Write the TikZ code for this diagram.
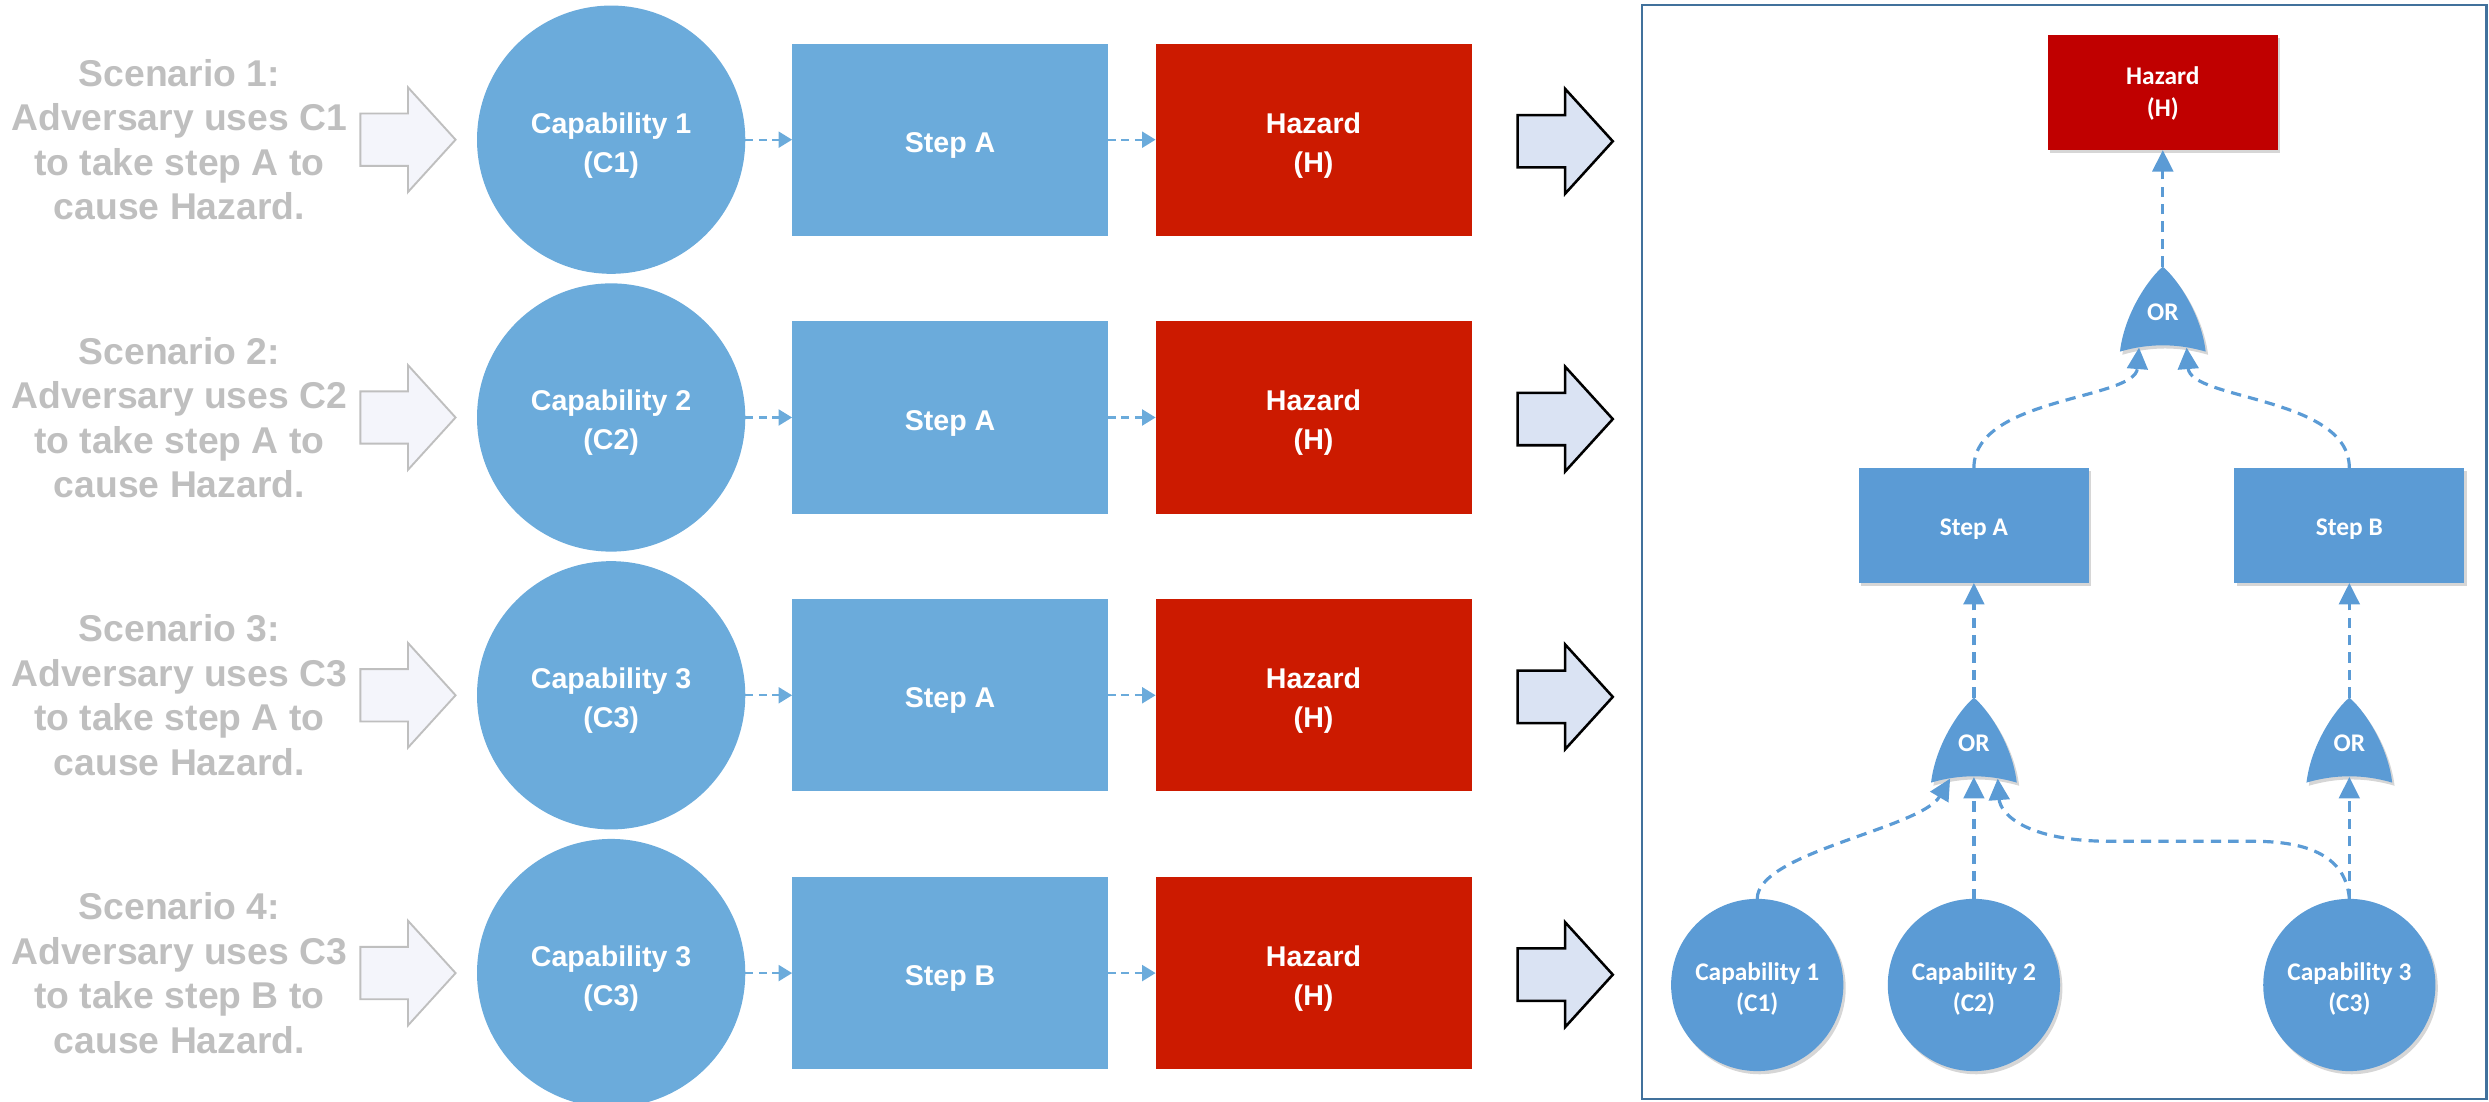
\documentclass[tikz,border=0pt]{standalone}
\usepackage{fontspec}
\setmainfont{Liberation Sans}
\newfontfamily\carlito{Carlito}
\usetikzlibrary{shapes.geometric,arrows.meta,shadows}
\definecolor{lblue}{HTML}{6BABDB}
\definecolor{lred}{HTML}{CC1A00}
\definecolor{rblue}{HTML}{5B9BD5}
\definecolor{rred}{HTML}{C00000}
\definecolor{scgray}{HTML}{BFBFBF}
\definecolor{hollowfill}{HTML}{F4F5FB}
\definecolor{bigfill}{HTML}{DAE3F3}
\definecolor{framecol}{HTML}{41719C}
\tikzset{
  scen/.style={text=scgray, align=center, inner sep=0, font=\fontsize{23.5}{28}\selectfont\bfseries},
  lcap/.style={circle, fill=lblue, minimum size=169pt, inner sep=0, outer sep=0},
  lstep/.style={rectangle, fill=lblue, minimum width=199pt, minimum height=121pt, inner sep=0, outer sep=0},
  lhaz/.style={lstep, fill=lred},
  ltext/.style={text=white, align=center, inner sep=0, font=\fontsize{18}{24.5}\selectfont\bfseries},
  ldash/.style={draw=lblue, line width=1.5pt, dash pattern=on 5pt off 3.5pt, -{Triangle[length=8.5pt,width=10pt]}},
  rshadow/.style={drop shadow={shadow xshift=1.5pt, shadow yshift=-2pt, opacity=0.16, fill=black}},
  rbox/.style={rectangle, fill=rblue, minimum width=145pt, minimum height=72.5pt, inner sep=0, outer sep=0, rshadow},
  rhaz/.style={rbox, fill=rred},
  rcap/.style={circle, fill=rblue, minimum size=108.5pt, inner sep=0, outer sep=0, rshadow},
  rtext/.style={text=white, align=center, inner sep=0, font=\carlito\bfseries\fontsize{16}{20}\selectfont},
  ortext/.style={text=white, inner sep=0, font=\carlito\bfseries\fontsize{16}{19}\selectfont},
  rdash/.style={draw=rblue, line width=2pt, dash pattern=on 6.5pt off 4.5pt, -{Triangle[length=13.5pt,width=13pt]}},
  hollowarr/.pic={\path[draw=scgray, fill=hollowfill, line width=1.2pt] (0,-16.5) -- (30,-16.5) -- (30,-33) -- (60,0) -- (30,33) -- (30,16.5) -- (0,16.5) -- cycle;},
  bigarr/.pic={\path[draw=black, fill=bigfill, line width=1.6pt] (0,-16.5) -- (30,-16.5) -- (30,-33) -- (60,0) -- (30,33) -- (30,16.5) -- (0,16.5) -- cycle;},
  orgate/.pic={
    \path[fill=rblue, rshadow] (-27,0) .. controls (-24,-25) and (-8,-47) .. (0,-53.5) .. controls (8,-47) and (24,-25) .. (27,0) .. controls (9,-5.3) and (-9,-5.3) .. (-27,0) -- cycle;
    \coordinate (-top) at (0,-53.5);
    \coordinate (-in) at (0,-3.5);
    \coordinate (-inL) at (-15,-2.5);
    \coordinate (-inR) at (15,-2.5);
    \node[ortext] (-lbl) at (0,-25) {OR};
  }
}
\begin{document}
\begin{tikzpicture}[x=1pt, y=-1pt]
\useasboundingbox (0,0) rectangle (1568,694);
% left panel
\foreach \i/\n/\s in {1/1/A,2/2/A,3/3/A,4/3/B}{
  \pgfmathsetmacro\yy{88+175*(\i-1)}
  \node[scen] (sc\i) at (113,\yy) {Scenario \i:\\Adversary uses C\n\\to take step \s{} to\\cause Hazard.};
  \pic (ha\i) at (227,\yy) {hollowarr};
  \node[lcap] (c\i) at (385,\yy) {};
  \node[ltext] (ct\i) at ([yshift=-3.5pt]c\i.center) {Capability \n\\(C\n)};
  \node[lstep] (s\i) at (598.5,\yy) {};
  \node[ltext] (st\i) at ([yshift=-3.5pt]s\i.center) {Step \s};
  \node[lhaz] (h\i) at (827.5,\yy) {};
  \node[ltext] (ht\i) at ([yshift=-3.5pt]h\i.center) {Hazard\\(H)};
  \draw[ldash] (c\i) -- (s\i);
  \draw[ldash] (s\i) -- (h\i);
  \pic (ba\i) at (956,\yy+1) {bigarr};
}
% right panel
\draw[framecol, line width=1.5pt] (1034.5,3) rectangle (1566.5,692.5);
\node[rhaz] (RH) at (1362.5,58.3) {};
\node[rtext] (RHt) at ([yshift=-0.5pt]RH.center) {Hazard\\(H)};
\node[rbox] (RSA) at (1243.5,331) {};
\node[rtext] (RSAt) at ([yshift=-2.5pt]RSA.center) {Step A};
\node[rbox] (RSB) at (1480,331) {};
\node[rtext] (RSBt) at ([yshift=-2.5pt]RSB.center) {Step B};
\pic (gT) at (1362.5,221.5) {orgate};
\pic (gA) at (1243.5,493) {orgate};
\pic (gB) at (1480,493) {orgate};
\node[rcap] (RC1) at (1107,620.5) {};
\node[rtext] (RC1t) at ([yshift=-2.5pt]RC1.center) {Capability 1\\(C1)};
\node[rcap] (RC2) at (1243.5,620.5) {};
\node[rtext] (RC2t) at ([yshift=-2.5pt]RC2.center) {Capability 2\\(C2)};
\node[rcap] (RC3) at (1480,620.5) {};
\node[rtext] (RC3t) at ([yshift=-2.5pt]RC3.center) {Capability 3\\(C3)};
\draw[rdash] (gT-top) -- (RH.south);
\draw[rdash] (RSA.north) .. controls (1243.5,250) and (1345,252) .. (gT-inL);
\draw[rdash] (RSB.north) .. controls (1480,250) and (1380,252) .. (gT-inR);
\draw[rdash] (gA-top) -- (RSA.south);
\draw[rdash] (gB-top) -- (RSB.south);
\draw[rdash] (RC1.north) .. controls (1107,537) and (1210,522) .. (gA-inL);
\draw[rdash] (RC2.north) -- (gA-in);
\draw[rdash] (RC3.north) -- (gB-in);
\draw[rdash] (RC3.north) .. controls (1478,540) and (1455,530) .. (1420,530) -- (1330,530) .. controls (1275,530) and (1260,512) .. (gA-inR);
\end{tikzpicture}
\end{document}
